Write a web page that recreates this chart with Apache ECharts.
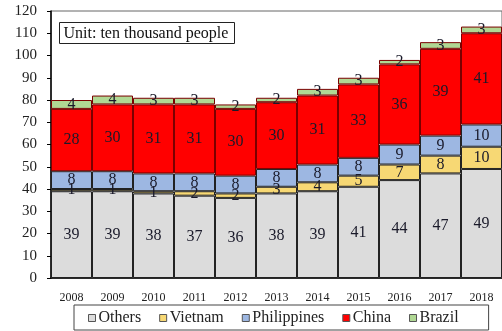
<!DOCTYPE html>
<html>
<head>
<meta charset="utf-8">
<script src="https://cdn.jsdelivr.net/npm/echarts@6/dist/echarts.min.js"></script>
<style>
  html, body { margin: 0; padding: 0; background: #fff; }
  #chart { width: 502px; height: 331px; }
</style>
</head>
<body>
<div id="chart"></div>
<script>
// Foreign residents by nationality, ten thousand people
const years = ['2008', '2009', '2010', '2011', '2012', '2013', '2014', '2015', '2016', '2017', '2018'];
const others      = [39, 39, 38, 37, 36, 38, 39, 41, 44, 47, 49];
const vietnam     = [1, 1, 1, 2, 2, 3, 4, 5, 7, 8, 10];
const philippines = [8, 8, 8, 8, 8, 8, 8, 8, 9, 9, 10];
const china       = [28, 30, 31, 31, 30, 30, 31, 33, 36, 39, 41];
const brazil      = [4, 4, 3, 3, 2, 2, 3, 3, 2, 3, 3];

const serif = '"Liberation Serif", "DejaVu Serif", serif';

function seriesOf(name, data, color, border) {
  return {
    name: name,
    type: 'bar',
    stack: 'total',
    data: data,
    barCategoryGap: '0%',
    itemStyle: { color: color, borderColor: border, borderWidth: 1 },
    label: {
      show: true,
      position: 'inside',
      fontFamily: serif,
      fontSize: 16,
      color: '#1a1a2a'
    }
  };
}

const chart = echarts.init(document.getElementById('chart'), null, { renderer: 'canvas' });
chart.setOption({
  animation: false,
  backgroundColor: '#fff',
  grid: {
    left: 51, top: 11, width: 458, bottom: 53,
    show: true, borderColor: '#666', borderWidth: 1, backgroundColor: 'transparent'
  },
  legend: {
    bottom: 1,
    left: 74,
    icon: 'rect',
    itemWidth: 7,
    itemHeight: 7,
    itemGap: 18,
    padding: [5, 30, 4, 14],
    borderColor: '#444',
    borderWidth: 1,
    itemStyle: { borderColor: '#555', borderWidth: 1 },
    textStyle: { fontFamily: serif, fontSize: 16, color: '#222', padding: [0, 0, 0, -2] },
    data: ['Others', 'Vietnam', 'Philippines', 'China', 'Brazil']
  },
  xAxis: {
    type: 'category',
    data: years,
    axisLine: { lineStyle: { color: '#000', width: 1.5 } },
    axisTick: { show: false },
    axisLabel: { fontFamily: serif, fontSize: 12, color: '#222', margin: 14 }
  },
  yAxis: {
    type: 'value',
    min: 0, max: 120, interval: 10,
    axisLine: { show: true, lineStyle: { color: '#000', width: 1.5 } },
    axisTick: { show: true, length: 4, lineStyle: { color: '#000' } },
    splitLine: { show: false },
    axisLabel: { fontFamily: serif, fontSize: 15, color: '#222', margin: 14 }
  },
  graphic: [{
    type: 'group',
    left: 59, top: 22,
    children: [
      { type: 'rect', shape: { x: 0, y: 0, width: 175, height: 21 },
        style: { fill: '#fff', stroke: '#222', lineWidth: 1 } },
      { type: 'text', x: 4, y: 3,
        style: { text: 'Unit: ten thousand people', fontFamily: serif, fontSize: 16, fill: '#111' } }
    ]
  }],
  series: [
    seriesOf('Others', others, '#dcdcdc', '#222'),
    seriesOf('Vietnam', vietnam, '#f7d874', '#222'),
    seriesOf('Philippines', philippines, '#9db7e2', '#222'),
    seriesOf('China', china, '#ff0000', '#7a0000'),
    seriesOf('Brazil', brazil, '#b0d894', '#7a0000')
  ]
});
</script>
</body>
</html>
